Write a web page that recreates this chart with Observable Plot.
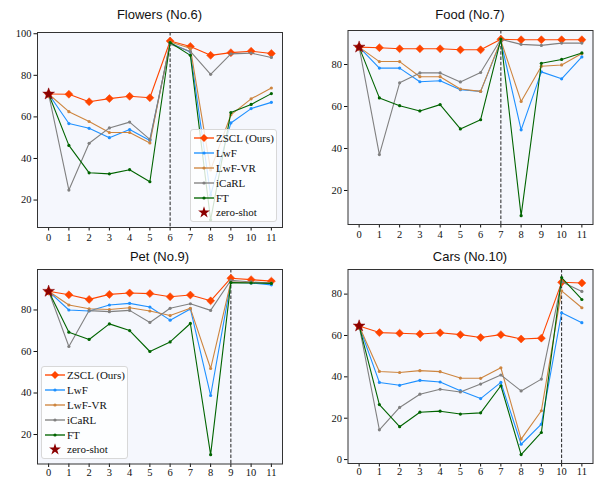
<!DOCTYPE html>
<html><head><meta charset="utf-8">
<script src="https://cdn.jsdelivr.net/npm/d3@7"></script>
<script src="https://cdn.jsdelivr.net/npm/@observablehq/plot@0.6"></script>
<style>
body{margin:0;background:#fff;}
#root{position:relative;width:594px;height:478px;overflow:hidden;}
.panel{position:absolute;}
.title{position:absolute;font-family:"Liberation Sans",Arial,sans-serif;font-size:13px;line-height:14px;color:#111;white-space:nowrap;transform:translateX(-50%);}
.legend{position:absolute;background:rgba(255,255,255,0.82);border:1px solid #d8d8d8;border-radius:3px;box-sizing:border-box;padding-top:1px;font-family:"Liberation Serif","Times New Roman",serif;font-size:11px;color:#111;}
.legend .row{display:flex;align-items:center;height:14.8px;white-space:nowrap;}
.legend svg{margin-left:3px;margin-right:2px;overflow:visible;flex:none;}
</style>
</head><body>
<div id="root"></div>
<script>
// ---------- data ----------
const xTicks = [0,1,2,3,4,5,6,7,8,9,10,11];
const methods = ["ZSCL (Ours)","LwF","LwF-VR","iCaRL","FT"];
const methodColors = ["#ff4500","#1e90ff","#cd853f","#808080","#006400"];
const zeroShotLabel = "zero-shot";

const flowersZSCL  = [71,70.9,67.3,68.8,69.9,69.2,96.5,93.9,89.6,90.9,91.6,90.5];
const flowersLwF   = [71,56.8,54.5,50.0,53.9,48.7,95.6,91.2,22.4,57.1,64.0,67.0];
const flowersLwFVR = [71,62.5,57.8,52.5,52.5,47.5,96.0,93.0,34.5,61.0,68.7,73.9];
const flowersICaRL = [71,24.8,47.3,54.7,57.5,49.2,95.0,91.5,80.5,90.3,90.7,88.6];
const flowersFT    = [71,46.3,33.1,32.6,34.6,28.8,95.8,89.6,10.5,62.1,66.0,71.2];
const flowersZeroShot = 71;

const foodZSCL  = [88.3,88.0,87.5,87.5,87.5,87.0,87.0,92.0,91.8,91.8,91.8,91.8];
const foodLwF   = [88.3,78.3,78.3,71.8,72.3,68.0,67.2,91.0,48.9,76.5,73.2,83.6];
const foodLwFVR = [88.3,81.4,81.4,74.2,74.2,68.3,67.2,91.5,62.4,79.2,79.8,85.2];
const foodICaRL = [88.3,37.1,71.3,76.0,76.0,71.7,76.2,92.0,89.6,89.1,90.2,90.2];
const foodFT    = [88.3,64.1,60.4,57.9,60.9,49.3,53.7,92.1,8.0,80.6,82.4,85.5];
const foodZeroShot = 88.3;

const petZSCL  = [89.0,87.3,85.1,87.5,88.2,87.9,86.4,87.2,84.4,95.3,94.6,93.9];
const petLwF   = [89.0,80.0,79.5,82.4,83.2,81.4,75.1,80.5,38.8,93.4,93.0,92.1];
const petLwFVR = [89.0,82.4,80.6,80.2,81.1,79.5,77.3,80.8,51.8,93.5,93.3,93.0];
const petICaRL = [89.0,62.4,79.7,79.2,79.8,74.0,80.8,83.0,79.8,94.3,93.5,93.0];
const petFT    = [89.0,69.3,65.8,73.3,70.1,60.0,64.6,73.5,10.3,93.2,93.0,92.8];
const petZeroShot = 89.0;

const carsZSCL  = [64.6,61.4,61.1,60.7,61.3,60.4,59.0,60.4,58.3,58.7,85.7,85.4];
const carsLwF   = [64.6,37.3,35.9,38.3,37.5,33.3,29.5,37.3,7.4,17.1,71.0,66.2];
const carsLwFVR = [64.6,42.6,42.1,43.0,42.5,39.4,39.3,44.4,9.9,23.6,81.6,73.4];
const carsICaRL = [64.6,14.4,25.2,31.6,34.0,32.7,36.5,40.9,33.2,38.9,86.0,81.3];
const carsFT    = [64.6,26.6,15.9,22.9,23.4,22.0,22.6,35.7,2.4,13.1,88.0,77.4];
const carsZeroShot = 64.6;

const titles = ["Flowers (No.6)","Food (No.7)","Pet (No.9)","Cars (No.10)"];
const dashSteps = [6,7,9,10];
const yTicksFlowers = [20,40,60,80,100];
const yTicksFood = [20,40,60,80];
const yTicksPet = [20,40,60,80];
const yTicksCars = [0,20,40,60,80];

// ---------- layout ----------
const root = document.getElementById("root");
const bg = "#f5f7fd";

function rowsFor(series){
  const out = [];
  series.forEach((vals, mi) => vals.forEach((v, i) => out.push({method: methods[mi], step: xTicks[i], value: v})));
  return out;
}

function makePanel(cfg){
  const rows = rowsFor(cfg.series);
  const marks = [Plot.frame({fill: bg, stroke: null})];
  marks.push(Plot.ruleX([cfg.dash], {stroke: "#222", strokeWidth: 1, strokeDasharray: "3.5,1.8"}));
  methods.forEach((m, mi) => {
    const d = rows.filter(r => r.method === m);
    marks.push(Plot.line(d, {x: "step", y: "value", stroke: methodColors[mi], strokeWidth: 1.1}));
    if (mi === 0) marks.push(Plot.dot(d, {x: "step", y: "value", fill: methodColors[mi], stroke: methodColors[mi], strokeWidth: 0.5, symbol: "diamond2", r: 3.6}));
    else marks.push(Plot.dot(d, {x: "step", y: "value", fill: methodColors[mi], r: 1.6}));
  });
  marks.push(Plot.dot([{step: 0, value: cfg.zero}], {x: "step", y: "value", symbol: "star", fill: "#8b0000", stroke: "#8b0000", strokeWidth: 0.5, r: 3.7}));
  marks.push(Plot.axisX({ticks: xTicks, tickSize: 3.5, tickPadding: cfg.xPad, label: null, tickFormat: d => String(d)}));
  marks.push(Plot.axisY({ticks: cfg.yTicks, tickSize: 3.5, tickPadding: 2.5, label: null, tickFormat: d => String(d)}));
  marks.push(Plot.frame({stroke: "#333", strokeWidth: 1}));
  const svg = Plot.plot({
    width: cfg.w, height: cfg.h,
    marginLeft: cfg.ml, marginRight: cfg.mr, marginTop: cfg.mt, marginBottom: cfg.mb,
    x: {domain: [-0.55, 11.55]},
    y: {domain: cfg.domain},
    style: {fontFamily: "'Liberation Serif','Times New Roman',serif", fontSize: "10.5px", background: "transparent", overflow: "visible", color: "#111"},
    marks
  });
  const wrap = document.createElement("div");
  wrap.className = "panel";
  wrap.style.left = cfg.left + "px";
  wrap.style.top = cfg.top + "px";
  wrap.appendChild(svg);
  root.appendChild(wrap);

  const t = document.createElement("div");
  t.className = "title";
  t.textContent = cfg.title;
  t.style.left = (cfg.left + cfg.ml + (cfg.w - cfg.ml - cfg.mr) / 2) + "px";
  t.style.top = cfg.titleTop + "px";
  root.appendChild(t);
}

function makeLegend(left, top){
  const box = document.createElement("div");
  box.className = "legend";
  box.style.left = left + "px";
  box.style.top = top + "px";
  box.style.width = "87px";
  box.style.height = "93px";
  const labels = methods.concat([zeroShotLabel]);
  labels.forEach((lab, i) => {
    const row = document.createElement("div");
    row.className = "row";
    const ns = "http://www.w3.org/2000/svg";
    const s = document.createElementNS(ns, "svg");
    s.setAttribute("width", 20); s.setAttribute("height", 12);
    if (i < methods.length) {
      const ln = document.createElementNS(ns, "line");
      ln.setAttribute("x1", 0); ln.setAttribute("x2", 20); ln.setAttribute("y1", 6); ln.setAttribute("y2", 6);
      ln.setAttribute("stroke", methodColors[i]); ln.setAttribute("stroke-width", 1.8); ln.setAttribute("stroke-opacity", 0.75);
      s.appendChild(ln);
      if (i === 0) {
        const p = document.createElementNS(ns, "path");
        p.setAttribute("d", d3.symbol(d3.symbolDiamond2, Math.PI * 3.6 * 3.6)());
        p.setAttribute("transform", "translate(10,6)");
        p.setAttribute("fill", methodColors[i]);
        s.appendChild(p);
      } else {
        const c = document.createElementNS(ns, "circle");
        c.setAttribute("cx", 10); c.setAttribute("cy", 6); c.setAttribute("r", 1.6);
        c.setAttribute("fill", methodColors[i]);
        s.appendChild(c);
      }
    } else {
      const p = document.createElementNS(ns, "path");
      p.setAttribute("d", d3.symbol(d3.symbolStar, Math.PI * 3.7 * 3.7)());
      p.setAttribute("transform", "translate(10,6.5)");
      p.setAttribute("fill", "#8b0000");
      s.appendChild(p);
    }
    row.appendChild(s);
    const sp = document.createElement("span");
    sp.textContent = lab;
    row.appendChild(sp);
    box.appendChild(row);
  });
  root.appendChild(box);
}

makePanel({title: titles[0], series: [flowersZSCL, flowersLwF, flowersLwFVR, flowersICaRL, flowersFT], zero: flowersZeroShot,
  dash: dashSteps[0], yTicks: yTicksFlowers, domain: [6.8, 100.6], xPad: 3,
  left: 0, top: 0, w: 297, h: 245, ml: 37, mr: 15, mt: 32, mb: 18, titleTop: 8});
makePanel({title: titles[1], series: [foodZSCL, foodLwF, foodLwFVR, foodICaRL, foodFT], zero: foodZeroShot,
  dash: dashSteps[1], yTicks: yTicksFood, domain: [3.8, 96.2], xPad: 3,
  left: 297, top: 0, w: 297, h: 245, ml: 50.5, mr: 1.5, mt: 30, mb: 21, titleTop: 8});
makePanel({title: titles[2], series: [petZSCL, petLwF, petLwFVR, petICaRL, petFT], zero: petZeroShot,
  dash: dashSteps[2], yTicks: yTicksPet, domain: [5.8, 99.5], xPad: 1,
  left: 0, top: 245, w: 297, h: 233, ml: 37, mr: 15, mt: 24, mb: 14.5, titleTop: 249.5});
makePanel({title: titles[3], series: [carsZSCL, carsLwF, carsLwFVR, carsICaRL, carsFT], zero: carsZeroShot,
  dash: dashSteps[3], yTicks: yTicksCars, domain: [-1.9, 91.9], xPad: 1,
  left: 297, top: 245, w: 297, h: 233, ml: 50.5, mr: 1.5, mt: 24, mb: 15, titleTop: 249.5});

makeLegend(190, 129);
makeLegend(41, 366);
</script>
</body></html>
